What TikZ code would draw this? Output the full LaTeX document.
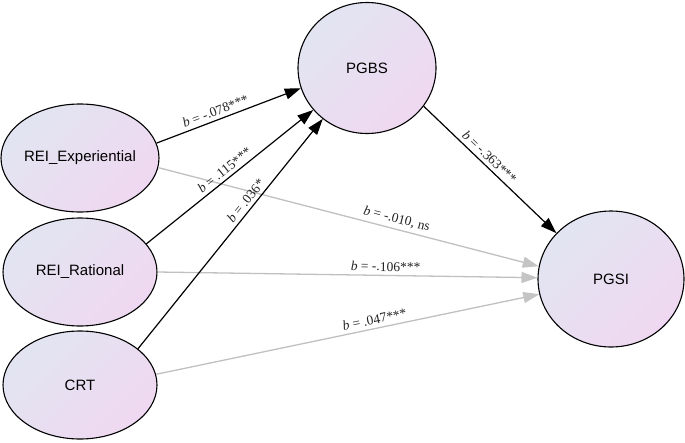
\documentclass[tikz,border=0pt]{standalone}
\usepackage{fontspec}
\setmainfont{Liberation Serif}
\newfontfamily\nodefont{Liberation Sans}
\usetikzlibrary{shapes.geometric,arrows.meta}
\definecolor{fillA}{HTML}{E2E5F1}
\definecolor{fillB}{HTML}{EFD8F1}
\definecolor{grayline}{HTML}{C0C0C0}
\definecolor{grayhead}{HTML}{C4C4C4}
\definecolor{labelcol}{HTML}{222222}
\begin{document}
\begin{tikzpicture}[x=1pt,y=-1pt,
  latent/.style={ellipse, draw=black, line width=1.1pt, top color=fillA, bottom color=fillB,
    shading angle=45, inner sep=0pt, font=\nodefont\fontsize{15}{18}\selectfont},
  smallnode/.style={latent, minimum width=154pt, minimum height=108pt},
  bignode/.style={latent},
  blackarrow/.style={draw=black, line width=1.2pt, -{Triangle[length=16pt,width=11pt]}},
  grayarrow/.style={draw=grayline, line width=1.3pt, -{Triangle[length=16pt,width=11pt,fill=grayhead,color=grayhead]}},
  lab/.style={font=\fontsize{13.5}{15}\selectfont, text=labelcol, sloped, above, inner sep=3.5pt}
]
\useasboundingbox (0,0) rectangle (685,442);
\node[smallnode] (exp) at (80,158) {REI\_Experiential};
\node[smallnode] (rat) at (80,272) {REI\_Rational};
\node[smallnode] (crt) at (80,385) {CRT};
\node[bignode, minimum width=138pt, minimum height=131pt] (pgbs) at (367,68) {PGBS};
\node[bignode, minimum width=146pt, minimum height=136pt] (pgsi) at (611,279) {PGSI};

\draw[grayarrow] (exp.-7.4) -- node[lab, pos=0.62] {\textit{b} = -.010, ns} (pgsi.170.4);
\draw[grayarrow] (rat.0) -- node[lab, pos=0.6] {\textit{b} = -.106***} (pgsi.179);
\draw[grayarrow] (crt.8.1) -- node[lab, pos=0.575] {\textit{b} = .047***} (pgsi.192.4);

\draw[blackarrow] (exp.11.3) -- node[lab, pos=0.43] {\textit{b} = -.078***} (pgbs.197.9);
\draw[blackarrow] (rat.23.4) -- node[lab, pos=0.5] {\textit{b} = .115***} (pgbs.218.7);
\draw[blackarrow] (crt.32.5) -- node[lab, pos=0.62] {\textit{b} = .036*} (pgbs.229.9);
\draw[blackarrow] (pgbs.-34.9) -- node[lab, pos=0.45] {\textit{b} = -.363***} (pgsi.140.6);
\end{tikzpicture}
\end{document}
